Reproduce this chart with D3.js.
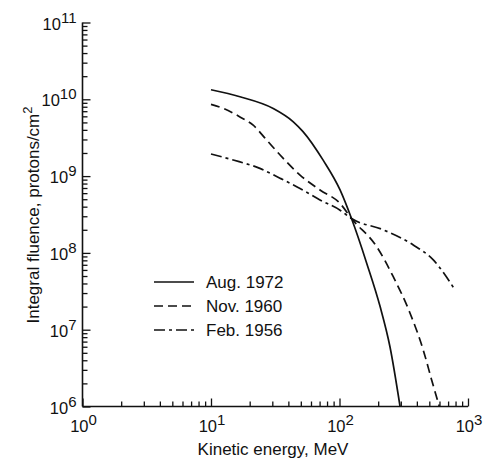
<!DOCTYPE html>
<html>
<head>
<meta charset="utf-8">
<script src="https://cdn.jsdelivr.net/npm/d3@7"></script>
<style>
  html, body { margin: 0; padding: 0; background: #fff; }
  svg { display: block; font-family: "Liberation Sans", Arial, Helvetica, sans-serif; }
</style>
</head>
<body>
<svg id="chart" width="484" height="466"></svg>
<script>
// Integral proton fluence spectra of three large solar particle events
const aug1972Energy = [10, 16.8, 30.5, 43.7, 52, 74.8, 101, 124, 163, 207, 247, 296];
const aug1972Fluence = [1.33e10, 1.08e10, 7.6e9, 5.1e9, 3.8e9, 1.6e9, 6.6e8, 2.8e8, 7.3e7, 2.0e7, 6.0e6, 1.0e6];

const nov1960Energy = [10, 12.5, 16.8, 21.3, 27.1, 36.5, 49.3, 70.5, 101, 124, 195, 262, 354, 449, 522, 598];
const nov1960Fluence = [8.6e9, 7.6e9, 5.9e9, 4.6e9, 2.95e9, 1.7e9, 1.03e9, 6.6e8, 4.4e8, 2.8e8, 1.2e8, 4.9e7, 1.64e7, 5.4e6, 2.2e6, 1.0e6];

const feb1956Energy = [10, 14.9, 24, 34.4, 49.3, 70.5, 101, 124, 219, 375, 537, 792];
const feb1956Fluence = [1.94e9, 1.62e9, 1.26e9, 9.4e8, 6.9e8, 4.9e8, 3.6e8, 2.8e8, 2.0e8, 1.27e8, 8.1e7, 3.3e7];

const seriesNames = ["Aug. 1972", "Nov. 1960", "Feb. 1956"];
const seriesDash = [null, "9,5", "11,4,3,4"];

const xTickExponents = [0, 1, 2, 3];
const yTickExponents = [6, 7, 8, 9, 10, 11];

const xTitle = "Kinetic energy, MeV";
const yTitle = "Integral fluence, protons/cm";

const series = [
  { name: seriesNames[0], dash: seriesDash[0], pts: aug1972Energy.map((e, i) => [e, aug1972Fluence[i]]) },
  { name: seriesNames[1], dash: seriesDash[1], pts: nov1960Energy.map((e, i) => [e, nov1960Fluence[i]]) },
  { name: seriesNames[2], dash: seriesDash[2], pts: feb1956Energy.map((e, i) => [e, feb1956Fluence[i]]) }
];

const svg = d3.select("#chart");
const plotLeft = 82.5, plotRight = 468, plotTop = 22.5, plotBottom = 406.5;
const ink = "#111";

const x = d3.scaleLog().domain([1, 1000]).range([plotLeft, plotRight]);
const y = d3.scaleLog().domain([1e6, 1e11]).range([plotBottom, plotTop]);

// Minor tick positions (2..9 within each decade)
function minorTicks(lo, hi) {
  const out = [];
  for (let p = lo; p < hi; p++) {
    for (let m = 2; m <= 9; m++) out.push(m * Math.pow(10, p));
  }
  return out;
}

// X axis: line plus inward ticks
const gx = svg.append("g").attr("transform", `translate(0,${plotBottom})`);
gx.append("g").call(d3.axisTop(x).tickValues(xTickExponents.map(e => Math.pow(10, e))).tickSize(8).tickFormat(""))
  .call(g => g.select(".domain").remove());
gx.append("g").call(d3.axisTop(x).tickValues(minorTicks(0, 3)).tickSize(5).tickFormat(""))
  .call(g => g.select(".domain").remove());
gx.selectAll("line").attr("stroke", ink).attr("stroke-width", 1.3);
svg.append("line").attr("x1", plotLeft).attr("x2", plotRight).attr("y1", plotBottom).attr("y2", plotBottom)
  .attr("stroke", ink).attr("stroke-width", 1.6);

// Y axis: line plus inward ticks
const gy = svg.append("g").attr("transform", `translate(${plotLeft},0)`);
gy.append("g").call(d3.axisRight(y).tickValues(yTickExponents.map(e => Math.pow(10, e))).tickSize(8).tickFormat(""))
  .call(g => g.select(".domain").remove());
gy.append("g").call(d3.axisRight(y).tickValues(minorTicks(6, 11)).tickSize(5).tickFormat(""))
  .call(g => g.select(".domain").remove());
gy.selectAll("line").attr("stroke", ink).attr("stroke-width", 1.3);
svg.append("line").attr("x1", plotLeft).attr("x2", plotLeft).attr("y1", plotTop).attr("y2", plotBottom)
  .attr("stroke", ink).attr("stroke-width", 1.6);

// Power-of-ten tick labels
function powerLabel(sel, exp) {
  sel.append("tspan").attr("font-size", 16.5).text("10");
  sel.append("tspan").attr("font-size", 15).attr("dy", -7).text(exp);
}
xTickExponents.forEach(e => {
  const t = svg.append("text").attr("x", x(Math.pow(10, e)) + 1).attr("y", plotBottom + 25)
    .attr("text-anchor", "middle").attr("fill", ink);
  powerLabel(t, e);
});
yTickExponents.forEach(e => {
  const t = svg.append("text").attr("x", plotLeft - 6).attr("y", y(Math.pow(10, e)) + 7)
    .attr("text-anchor", "end").attr("fill", ink);
  powerLabel(t, e);
});

// Axis titles
svg.append("text").attr("x", 273).attr("y", 455).attr("text-anchor", "middle")
  .attr("font-size", 17).attr("fill", ink).text(xTitle);
const yt = svg.append("text").attr("transform", "translate(39,215) rotate(-90)")
  .attr("text-anchor", "middle").attr("font-size", 17).attr("fill", ink);
yt.append("tspan").text(yTitle);
yt.append("tspan").attr("font-size", 13).attr("dy", -7).text("2");

// Spectra
const line = d3.line().x(d => x(d[0])).y(d => y(d[1])).curve(d3.curveMonotoneX);
svg.append("g").selectAll("path").data(series).join("path")
  .attr("d", d => line(d.pts))
  .attr("fill", "none").attr("stroke", ink).attr("stroke-width", 1.7)
  .attr("stroke-dasharray", d => d.dash);

// Legend
const lg = svg.append("g").selectAll("g").data(series).join("g")
  .attr("transform", (d, i) => `translate(154,${282 + i * 24})`);
lg.append("line").attr("x1", 0).attr("x2", 40).attr("y1", 0).attr("y2", 0)
  .attr("stroke", ink).attr("stroke-width", 1.7).attr("stroke-dasharray", d => d.dash);
lg.append("text").attr("x", 52).attr("y", 6).attr("font-size", 17).attr("fill", ink).text(d => d.name);
</script>
</body>
</html>
